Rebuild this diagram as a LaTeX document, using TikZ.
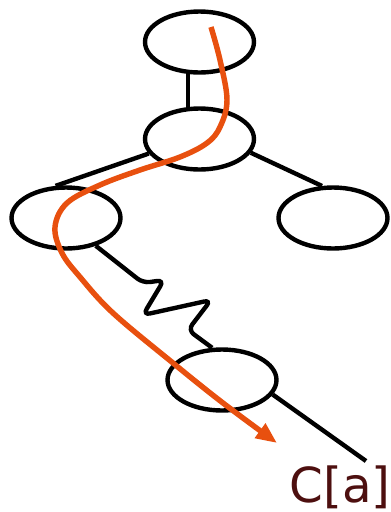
\documentclass[tikz,border=0pt]{standalone}
\usepackage{fontspec}
\setsansfont{DejaVu Sans}
\usepackage{tikz}
\usetikzlibrary{positioning, arrows.meta, shapes.geometric}
\definecolor{cutorange}{HTML}{E8500F}
\definecolor{labelred}{HTML}{4D0F0F}
\begin{document}
\begin{tikzpicture}[x=0.02cm, y=-0.02cm]
	\tikzset{
		tnode/.style={ellipse, draw, line width=2.5pt, minimum width=2.18cm, minimum height=1.22cm, inner sep=0pt},
		tedge/.style={line width=2.5pt},
		cutpath/.style={line width=3.1pt, cutorange, -{Triangle[length=0.42cm, width=0.34cm]}}
	}
	\useasboundingbox (0,0) rectangle (391,512);
	
	% 结点
	\node[tnode] (top) at (199.5,42) {};
	\node[tnode] (mid) at (199.5,139) {};
	\node[tnode] (left) at (66,218) {};
	\node[tnode] (right) at (333,218) {};
	\node[tnode] (bot) at (222,380) {};
	\node[font=\sffamily\fontsize{27.5}{32}\selectfont, text=labelred, inner sep=0pt, anchor=base] (ca) at (340,502) {C[a]};
	\coordinate (caend) at (366,461);
	
	% 边
	\draw[tedge] (top.250) -- (mid.110);
	\draw[tedge] (mid.196) -- (left.108);
	\draw[tedge] (mid.345) -- (right.109);
	\draw[tedge, rounded corners=4pt] (left.-43) -- (143,283) -- (164,280) -- (143,315) -- (211,300) -- (188,330) -- (bot.107);
	\draw[tedge] (bot.-16) -- (caend);
	
	% 路径
	\draw[cutpath] plot[smooth, tension=0.6] coordinates {(211,27) (220,60) (227,100) (220,127) (207,143) (180,157) (140,170) (100,185) (67,203) (55,227) (62,253) (80,277) (113,313) (173,363) (223,403) (277,443)};
\end{tikzpicture}
\end{document}
